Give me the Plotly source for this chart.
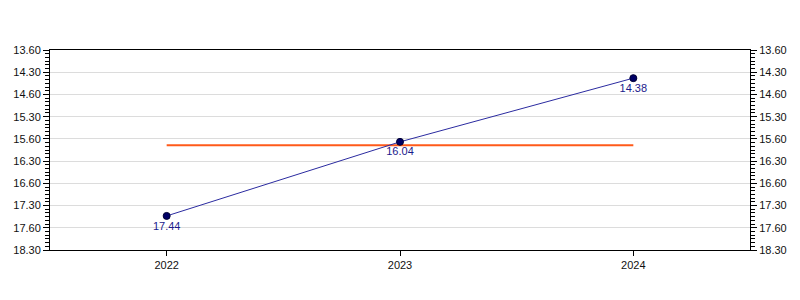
import plotly.graph_objects as go

years = ["2022", "2023", "2024"]
minutes = [17, 16, 14]
seconds = [44, 4, 38]
point_labels = ["17.44", "16.04", "14.38"]
tick_minutes = [14.0, 14.5, 15.0, 15.5, 16.0, 16.5, 17.0, 17.5, 18.0, 18.5]
tick_labels = ["13.60", "14.30", "14.60", "15.30", "15.60", "16.30", "16.60", "17.30", "17.60", "18.30"]

values = [m + s / 60.0 for m, s in zip(minutes, seconds)]
avg = sum(values) / len(values)
xpos = [int(y) for y in years]

fig = go.Figure()
fig.add_trace(go.Scatter(
    x=[xpos[0], xpos[-1]], y=[avg, avg], mode="lines",
    line=dict(color="#ff5a1a", width=2), hoverinfo="skip", showlegend=False))
fig.add_trace(go.Scatter(
    x=xpos, y=values, mode="lines+markers+text",
    text=point_labels, textposition="bottom center",
    textfont=dict(family="Liberation Sans, Arial", size=11, color="#1a1a8c"),
    line=dict(color="#2b2ba0", width=1),
    marker=dict(color="#000066", size=7, line=dict(color="#000033", width=1)),
    showlegend=False))
fig.add_trace(go.Scatter(x=xpos, y=values, yaxis="y2", mode="markers",
                         marker=dict(opacity=0), hoverinfo="skip", showlegend=False))

yrange = [tick_minutes[-1], tick_minutes[0]]
common_y = dict(
    range=yrange, tickmode="array", tickvals=tick_minutes, ticktext=tick_labels,
    ticks="outside", ticklen=6, tickcolor="black", tickwidth=1,
    showline=True, linecolor="black", linewidth=1,
    tickfont=dict(family="Liberation Sans, Arial", size=11, color="#111111"),
    minor=dict(tickmode="linear", tick0=14.0, dtick=1/12, ticklen=4,
               tickwidth=1, tickcolor="black", ticks="outside", showgrid=False),
    zeroline=False, fixedrange=True,
)

fig.update_layout(
    width=800, height=300,
    margin=dict(l=50, r=50, t=50, b=50),
    paper_bgcolor="white", plot_bgcolor="white",
    xaxis=dict(
        range=[xpos[0] - 0.5, xpos[-1] + 0.5], tickmode="array",
        tickvals=xpos, ticktext=years, ticks="outside", ticklen=5,
        tickcolor="black", showline=True, linecolor="black", linewidth=1,
        mirror=True, showgrid=False, zeroline=False,
        tickfont=dict(family="Liberation Sans, Arial", size=11, color="#111111"),
    ),
    yaxis=dict(showgrid=True, gridcolor="#dcdcdc", gridwidth=1, side="left", **common_y),
    yaxis2=dict(overlaying="y", side="right", showgrid=False, **common_y),
)

fig.write_html("out.html")
